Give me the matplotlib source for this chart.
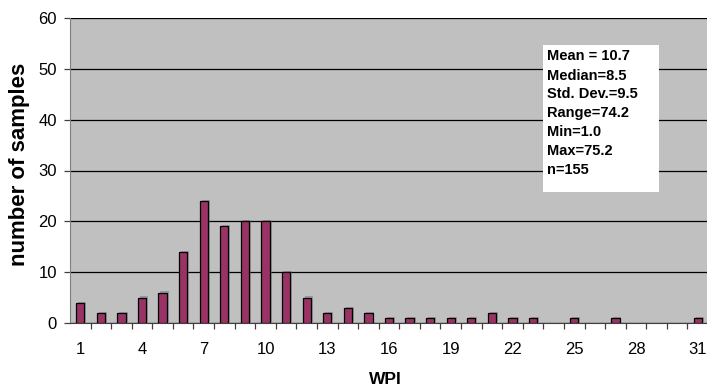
import numpy as np
import matplotlib.pyplot as plt
import matplotlib.patches as mpatches
import matplotlib.patheffects as pe

plt.rcParams['font.family'] = ['Liberation Sans', 'DejaVu Sans']

# WPI class (1..31) and number of samples in each
wpi = list(range(1, 32))
counts = [4, 2, 2, 5, 6, 14, 24, 19, 20, 20, 10, 5, 2, 3, 2, 1, 1, 1, 1, 1,
          2, 1, 1, 0, 1, 0, 1, 0, 0, 0, 1]
tick_labels = [1, 4, 7, 10, 13, 16, 19, 22, 25, 28, 31]
stats_lines = ["Mean = 10.7", "Median=8.5", "Std. Dev.=9.5", "Range=74.2",
               "Min=1.0", "Max=75.2", "n=155"]

W, H = 707, 387
left, right, top, bottom = 70, 708, 18, 323
fig = plt.figure(figsize=(W / 100, H / 100), dpi=100)
ax = fig.add_axes([left / W, 1 - bottom / H, (right - left) / W, (bottom - top) / H])
ax.set_facecolor('#C0C0C0')

x = np.arange(len(wpi))
bars = ax.bar(x, counts, width=0.4, color='#993366', edgecolor='black',
              linewidth=0.9, zorder=3)
for b, c in zip(bars, counts):
    if c == 0:
        b.set_visible(False)
        continue
    b.set_path_effects([pe.SimplePatchShadow(offset=(1.4, 0.8), shadow_rgbFace='#707070',
                                             alpha=0.5), pe.Normal()])

ax.set_xlim(-0.5, len(wpi) - 0.5)
ax.set_ylim(0, 60)
ax.set_yticks(range(0, 61, 10))
ax.yaxis.grid(True, color='black', linewidth=0.9)
ax.set_axisbelow(True)

# category ticks fall between the bars, labels under every third bar
ax.set_xticks(x[:-1] + 0.5)
ax.set_xticklabels([])
ax.set_xticks([wpi.index(t) for t in tick_labels], minor=True)
ax.set_xticklabels([str(t) for t in tick_labels], minor=True)
ax.tick_params(axis='x', which='minor', length=0, pad=13.5, labelsize=12)
ax.tick_params(axis='x', which='major', length=4, width=0.9, direction='out',
               color='#404040')
ax.tick_params(axis='y', length=4.3, width=0.9, pad=5, direction='out',
               labelsize=12, color='#404040')

for side in ['top', 'right']:
    ax.spines[side].set_visible(False)
ax.spines['left'].set_color('#808080')
ax.spines['bottom'].set_color('#404040')

ax.set_xlabel('WPI', fontsize=12.5, fontweight='bold')
ax.xaxis.set_label_coords(0.494, (bottom - 372) / (bottom - top))
ax.set_ylabel('number of samples', fontsize=16, fontweight='bold')
ax.yaxis.set_label_coords((30 - left) / (right - left), 0.52)

# statistics box
def ax_xy(px, py):
    return (px - left) / (right - left), (bottom - py) / (bottom - top)

bx0, by0 = ax_xy(543, 192)
bx1, by1 = ax_xy(659, 45)
ax.add_patch(mpatches.Rectangle((bx0, by0), bx1 - bx0, by1 - by0, transform=ax.transAxes,
                                facecolor='white', edgecolor='none', zorder=5))
for i, line in enumerate(stats_lines):
    tx, ty = ax_xy(547, 60.5 + 19 * i)
    ax.text(tx, ty, line, transform=ax.transAxes, fontsize=10.5, fontweight='bold',
            ha='left', va='baseline', zorder=6)

fig.savefig('out.png', dpi=100)
